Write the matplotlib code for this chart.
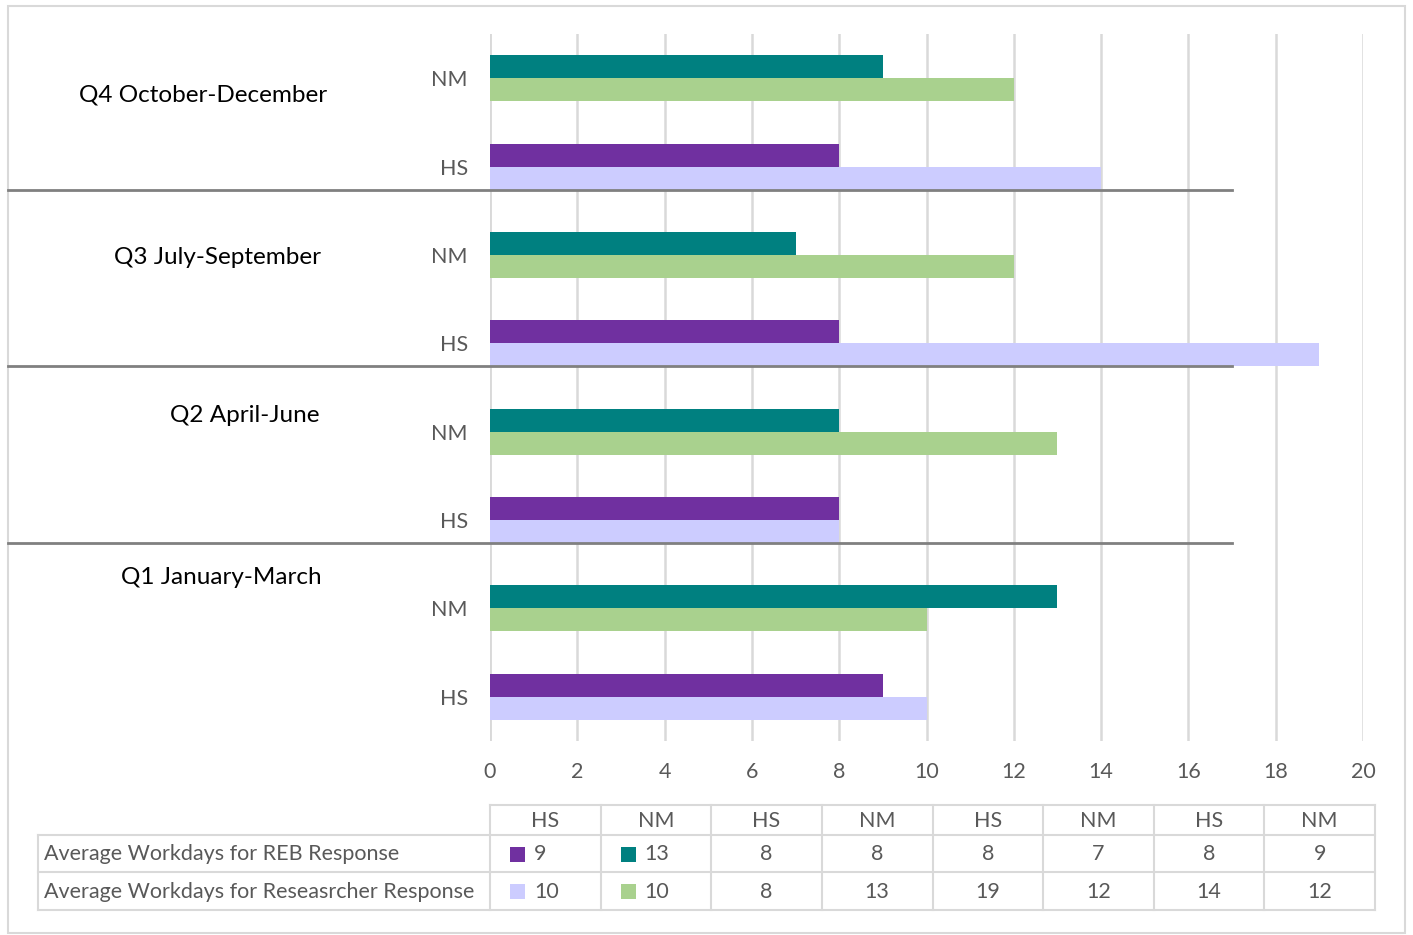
import numpy as np
import matplotlib
matplotlib.use("Agg")
import matplotlib.pyplot as plt

plt.rcParams['font.family'] = ['Lato', 'DejaVu Sans']

quarters = ["Q1 January-March", "Q2 April-June", "Q3 July-September", "Q4 October-December"]
groups = ["HS", "NM"]
reb = [9, 13, 8, 8, 8, 7, 8, 9]
researcher = [10, 10, 8, 13, 19, 12, 14, 12]
row_names = ["Average Workdays for REB Response", "Average Workdays for Reseasrcher Response"]
reb_cols = ["#7030A0", "#008080"]
res_cols = ["#CCCCFF", "#A9D18E"]
xticks = np.arange(0, 21, 2)

W, H = 1413, 935
fig = plt.figure(figsize=(W / 100, H / 100), dpi=100)

# overlay in pixel coords for frame, separators, labels, table
ov = fig.add_axes([0, 0, 1, 1])
ov.set_xlim(0, W)
ov.set_ylim(H, 0)
ov.axis("off")

# plot area in pixels
L, R, T, B = 490, 1363, 34, 741
ax = fig.add_axes([L / W, 1 - B / H, (R - L) / W, (B - T) / H])
ax.set_zorder(2)
ax.patch.set_alpha(0)

n = len(reb)
k = np.arange(n)
labels = [groups[i % 2] for i in range(n)]
bh = 0.26
ax.barh(k + bh / 2, reb, height=bh, color=[reb_cols[i % 2] for i in range(n)], zorder=3)
ax.barh(k - bh / 2, researcher, height=bh, color=[res_cols[i % 2] for i in range(n)], zorder=3)
ax.set_xlim(0, 20)
ax.set_ylim(-0.5, n - 0.5)
ax.set_xticks(xticks)
ax.set_yticks(k)
ax.set_yticklabels(labels)
ax.tick_params(axis="both", length=0, labelsize=15.5, colors="#595959")
ax.tick_params(axis="y", pad=16)
ax.tick_params(axis="x", pad=15)
ax.grid(axis="x", color="#D9D9D9", linewidth=1.8, zorder=0)
for s in ax.spines.values():
    s.set_visible(False)
ax.axvline(0, color="#D9D9D9", linewidth=1.8, zorder=1)

# separators between quarters (from left frame to x=17)
x_left = (8 - L) / (R - L) * 20
for q in range(1, 4):
    y = 2 * q - bh
    ax.plot([x_left, 17], [y, y], color="#808080", linewidth=2, clip_on=False, zorder=4)

# quarter labels
qpos = [(221, 577), (245, 415), (218, 257), (203, 95)]
for name, (px, py) in zip(quarters, qpos):
    ov.text(px, py, name, ha="center", va="center", fontsize=17.5, color="black")

# outer frame
ov.add_patch(plt.Rectangle((8, 6), 1397, 927, fill=False, edgecolor="#D9D9D9", linewidth=1.5))

# data table
col_edges = np.linspace(490, 1375, n + 1)
hy0, hy1, r1, r2 = 805, 835, 872, 910
tc = "#D9D9D9"
lw = 1.5
ov.plot([490, 1375], [hy0, hy0], color=tc, lw=lw)
for yy in (hy1, r1, r2):
    ov.plot([38, 1375], [yy, yy], color=tc, lw=lw)
ov.plot([38, 38], [hy1, r2], color=tc, lw=lw)
for xe in col_edges:
    ov.plot([xe, xe], [hy0, r2], color=tc, lw=lw)
tfs = 15.5
tcol = "#595959"
for i in range(n):
    cx = (col_edges[i] + col_edges[i + 1]) / 2
    ov.text(cx, (hy0 + hy1) / 2 + 1, labels[i], ha="center", va="center", fontsize=tfs, color=tcol)
    for vals, cols, yc in ((reb, reb_cols, (hy1 + r1) / 2), (researcher, res_cols, (r1 + r2) / 2)):
        if i < 2:
            ov.add_patch(plt.Rectangle((col_edges[i] + 20, yc - 7), 15, 15, color=cols[i], lw=0))
            ov.text(col_edges[i] + 44, yc + 1, str(vals[i]), ha="left", va="center", fontsize=tfs, color=tcol)
        else:
            ov.text(cx, yc + 1, str(vals[i]), ha="center", va="center", fontsize=tfs, color=tcol)
for name, yc in zip(row_names, ((hy1 + r1) / 2, (r1 + r2) / 2)):
    ov.text(44, yc + 1, name, ha="left", va="center", fontsize=tfs, color=tcol)

fig.savefig("out.png", dpi=100)
